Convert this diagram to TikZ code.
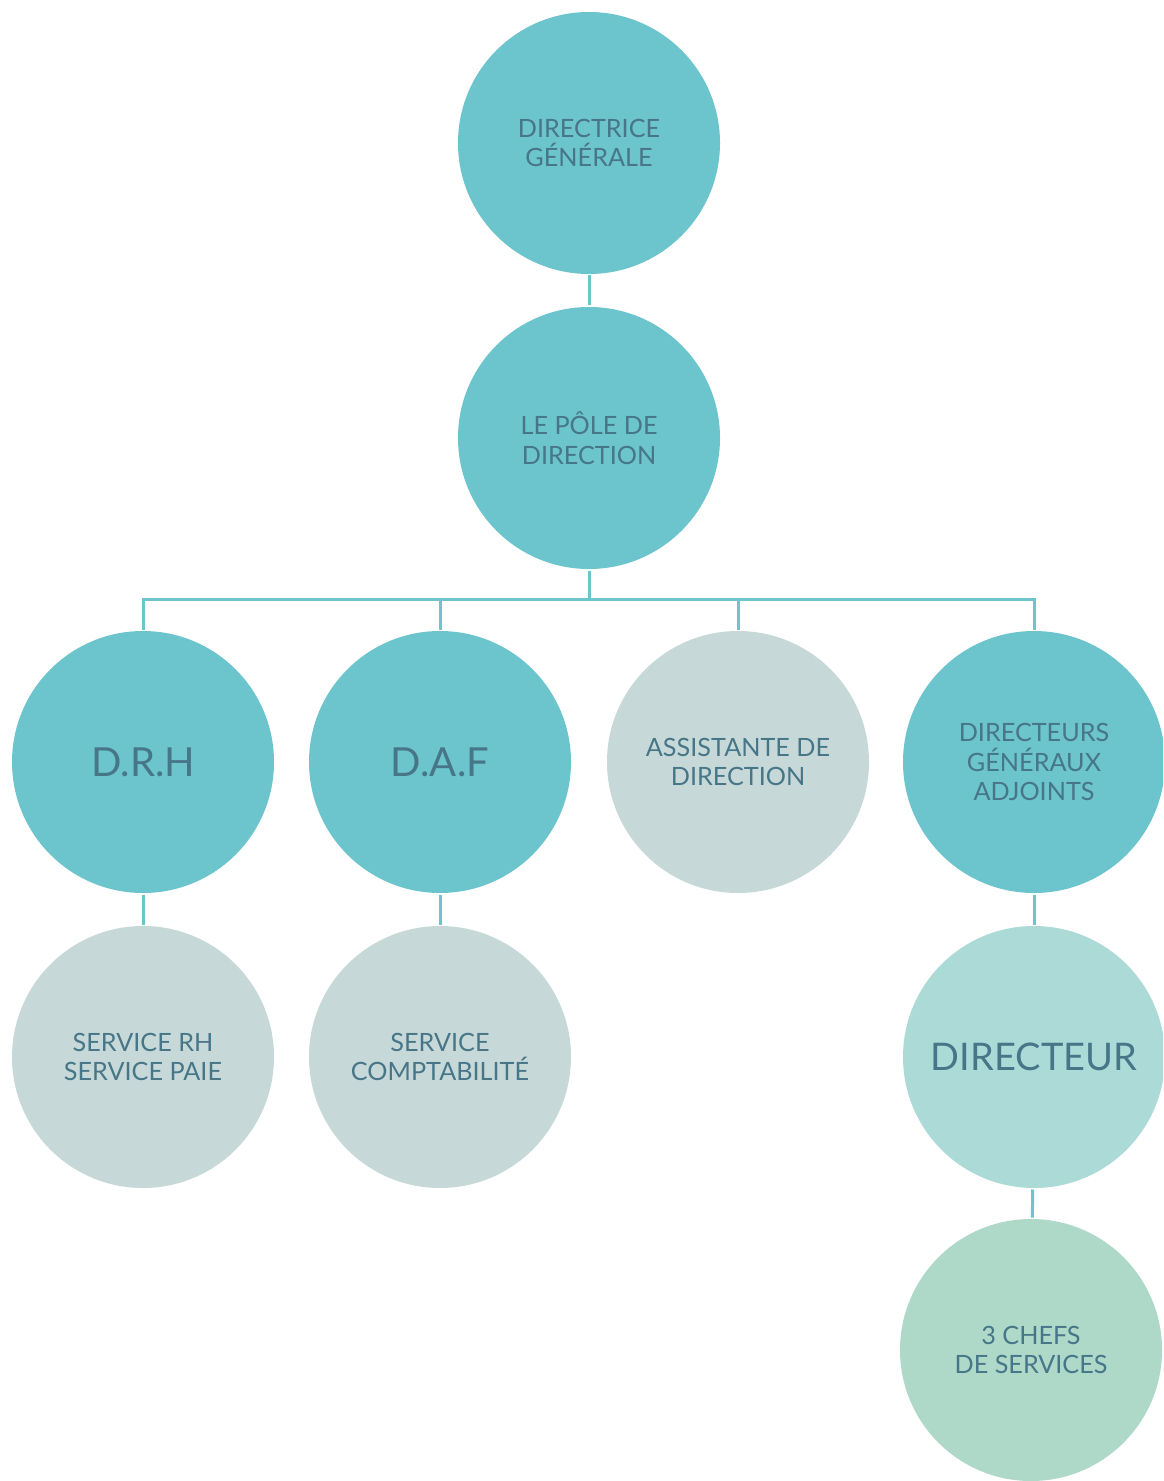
\documentclass[tikz,border=0pt]{standalone}
\usepackage{fontspec}
\setmainfont{Lato}
\usepackage{tikz}
\usetikzlibrary{positioning}
\definecolor{tealdark}{HTML}{6CC4CC}
\definecolor{greyblue}{HTML}{C6D9D8}
\definecolor{tealpale}{HTML}{ACDAD7}
\definecolor{mint}{HTML}{AED8C8}
\definecolor{inktext}{HTML}{477688}

\begin{document}
\begin{tikzpicture}[x=0.5pt, y=-0.5pt, line width=1.5pt, tealdark,
unit/.style={circle, fill=tealdark, text=inktext, minimum size=131pt,
inner sep=0pt, align=center, font=\fontsize{12.6}{14.7}\selectfont},
big/.style={font=\fontsize{20}{24}\selectfont},
staff/.style={unit, fill=greyblue}]
  \clip (0,0) rectangle (1163,1481);
  \fill[white] (0,0) rectangle (1163,1481);
  % top
  \node[unit] (dg) at (589,143) {DIRECTRICE\\GÉNÉRALE};
  \node[unit] (pole) at (589,438) {LE PÔLE DE\\DIRECTION};
  \coordinate (bar) at (589,599);
  % row 1
  \node[unit, big] (drh) at (143,762) {D.R.H};
  \node[unit, big] (daf) at (440,762) {D.A.F};
  \node[staff] (assist) at (738,762) {ASSISTANTE DE\\DIRECTION};
  \node[unit] (dga) at (1034,762) {DIRECTEURS\\GÉNÉRAUX\\ADJOINTS};
  % row 2
  \node[staff] (rh) at (143,1057) {SERVICE RH\\SERVICE PAIE};
  \node[staff] (compta) at (440,1057) {SERVICE\\COMPTABILITÉ};
  \node[unit, fill=tealpale, font=\fontsize{19}{22}\selectfont] (dir) at (1034,1057) {DIRECTEUR};
  % row 3
  \node[unit, fill=mint] (chefs) at (1031,1350) {3 CHEFS\\DE SERVICES};

  \draw (dg) -- (pole);
  \draw (pole) -- (bar);
\foreach \to in {drh,daf,assist,dga}
    \draw (bar) -| (\to);
\foreach \from/\to in {drh/rh,daf/compta,dga/dir,dir/chefs}
    \draw (\from) -- (\to);
\end{tikzpicture}
\end{document}
